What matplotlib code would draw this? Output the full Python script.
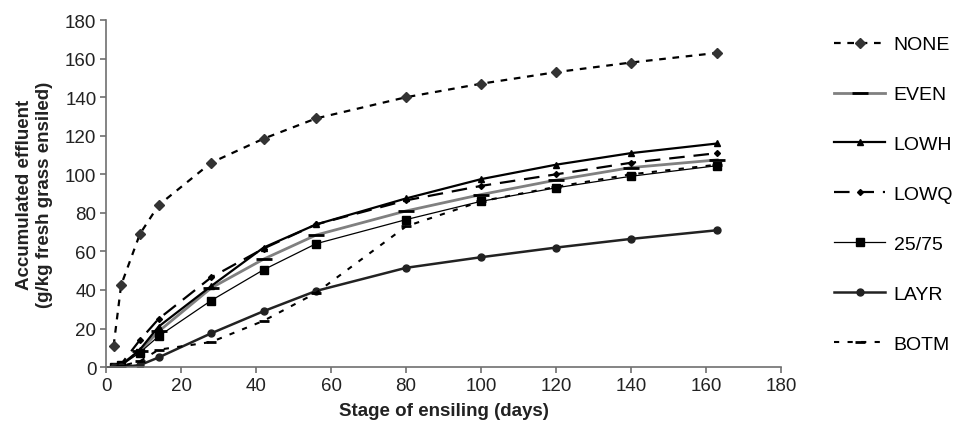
import matplotlib
matplotlib.use("Agg")
import matplotlib.pyplot as plt

plt.rcParams['font.family'] = ['Liberation Sans', 'DejaVu Sans']

days = [2, 4, 9, 14, 28, 42, 56, 80, 100, 120, 140, 163]

none_ = [11, 42.5, 69, 84, 106, 118.5, 129, 140, 147, 153, 158, 163]
even = [0, 1, 8.5, 18.5, 41, 56, 68.5, 81, 89.5, 97, 103.5, 107.5]
lowh = [0, 1, 9, 21, 42, 62, 74, 87.5, 97.5, 105, 111, 116]
lowq = [0, 1.5, 14, 25, 46.5, 61.5, 74, 86.5, 94, 100, 106, 111]
q2575 = [0, 1, 7.5, 16, 34.5, 50.5, 64, 76.5, 86, 93, 99, 104.5]
layr = [0, 0, 1, 5, 17.5, 29, 39.5, 51.5, 57, 62, 66.5, 71]
botm = [0, 0.5, 3, 9, 13, 24, 38.5, 73, 86, 93.5, 100, 105]

fig = plt.figure(figsize=(9.56, 4.31), dpi=100)
ax = fig.add_axes([0.111, 0.146, 0.706, 0.805])

ax.plot(days, none_, color='black', ls=(0, (3, 3)), lw=1.6, marker='D', ms=5,
        mfc='#333333', mec='#333333', label='NONE')
ax.plot(days, even, color='#808080', ls='-', lw=2, marker='_', ms=11,
        mec='black', mew=2, label='EVEN')
ax.plot(days, lowh, color='black', ls='-', lw=1.6, marker='^', ms=4, label='LOWH')
ax.plot(days, lowq, color='black', ls=(0, (7, 4)), lw=1.6, marker='D', ms=3, label='LOWQ')
ax.plot(days, q2575, color='black', ls='-', lw=0.9, marker='s', ms=6, label='25/75')
ax.plot(days, layr, color='#222222', ls='-', lw=1.8, marker='o', ms=5, label='LAYR')
ax.plot(days, botm, color='black', ls=(0, (2.5, 4)), lw=1.5, marker='_', ms=7,
        mew=2, label='BOTM')

ax.set_xlim(0, 180)
ax.set_ylim(0, 180)
ax.set_xticks(range(0, 181, 20))
ax.set_yticks(range(0, 181, 20))
for s in ['top', 'right']:
    ax.spines[s].set_visible(False)
for s in ['left', 'bottom']:
    ax.spines[s].set_color('#707070')
    ax.spines[s].set_linewidth(1.2)
ax.tick_params(colors='#707070', labelcolor='#222222', labelsize=13.5, length=4, width=1.2,
               pad=3)

ax.set_xlabel('Stage of ensiling (days)', fontsize=13.5, fontweight='bold', color='#222222',
              labelpad=6)
ax.set_ylabel('Accumulated effluent\n(g/kg fresh grass ensiled)', fontsize=13.5,
              fontweight='bold', color='#222222', labelpad=9)

leg = ax.legend(loc='upper left', bbox_to_anchor=(1.053, 1.005), frameon=False,
                fontsize=14, labelspacing=1.66, handlelength=2.6, handletextpad=0.45)

fig.savefig('out.png', dpi=100)
